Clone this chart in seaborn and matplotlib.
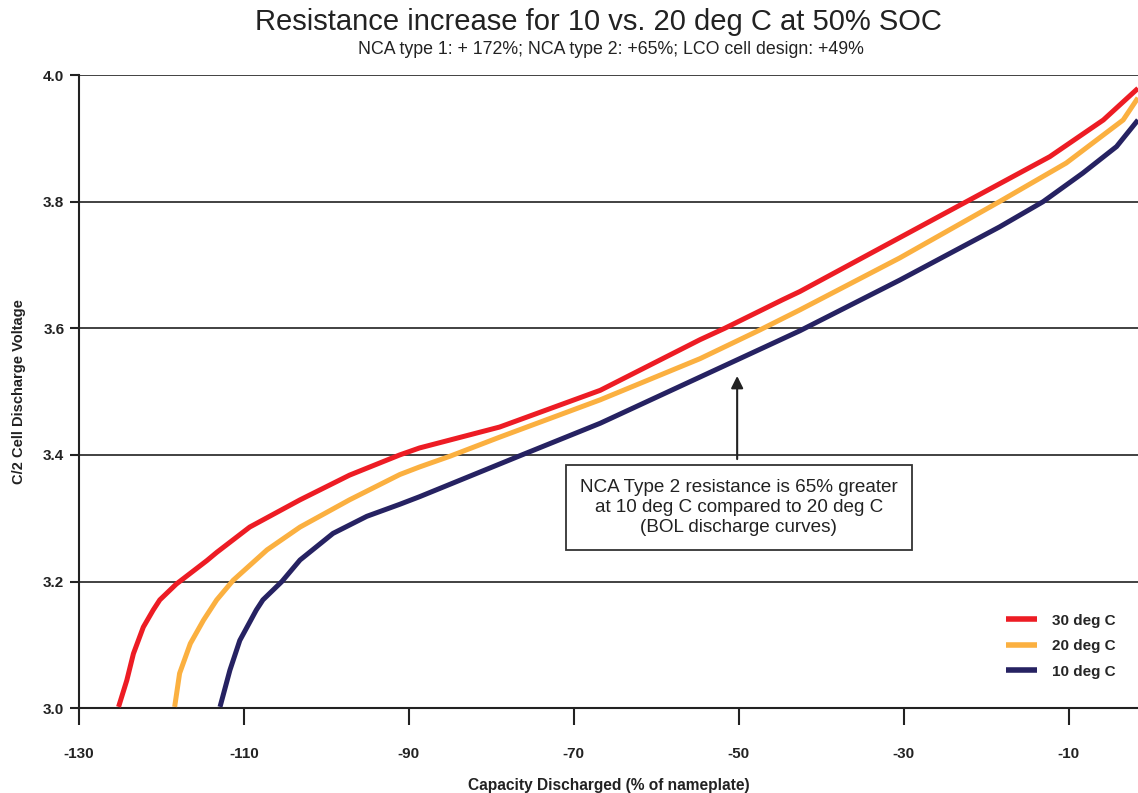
import numpy as np
import pandas as pd
import matplotlib
matplotlib.use("Agg")
import matplotlib.pyplot as plt
import seaborn as sns

series_names = ["30 deg C", "20 deg C", "10 deg C"]

cap_30 = [-125.2, -124.2, -123.4, -122.2, -121.0, -120.2, -118.2, -114.5, -113.3, -109.3, -103.2,
          -97.2, -91.1, -88.7, -79.0, -66.8, -54.7, -51.7, -44.7, -42.6, -32.5, -22.4, -12.3,
          -5.8, -1.6]
volt_30 = [3.002, 3.044, 3.086, 3.128, 3.155, 3.171, 3.196, 3.233, 3.246, 3.286, 3.329,
           3.368, 3.400, 3.411, 3.444, 3.502, 3.582, 3.600, 3.645, 3.658, 3.729, 3.800, 3.871,
           3.929, 3.979]

cap_20 = [-118.4, -117.8, -116.5, -114.9, -113.3, -111.3, -107.2, -103.2, -97.2, -91.1, -88.7,
          -85.0, -79.0, -66.8, -54.7, -47.5, -42.6, -30.5, -18.4, -10.3, -3.4, -1.6]
volt_20 = [3.002, 3.055, 3.102, 3.139, 3.171, 3.202, 3.250, 3.286, 3.329, 3.369, 3.381,
           3.398, 3.428, 3.487, 3.552, 3.597, 3.629, 3.711, 3.800, 3.861, 3.929, 3.964]

cap_10 = [-112.9, -111.7, -110.5, -108.5, -107.7, -105.4, -103.2, -99.2, -95.1, -91.1, -88.7,
          -76.1, -66.8, -54.7, -42.6, -30.5, -18.4, -13.1, -8.3, -4.2, -1.6]
volt_10 = [3.002, 3.060, 3.107, 3.155, 3.171, 3.200, 3.234, 3.276, 3.303, 3.322, 3.334,
           3.401, 3.450, 3.523, 3.596, 3.676, 3.760, 3.800, 3.845, 3.887, 3.929]

x_ticks = [-130, -110, -90, -70, -50, -30, -10]
y_ticks = [3.0, 3.2, 3.4, 3.6, 3.8, 4.0]

title = "Resistance increase for 10 vs. 20 deg C at 50% SOC"
subtitle = "NCA type 1: + 172%; NCA type 2: +65%; LCO cell design: +49%"
note = "NCA Type 2 resistance is 65% greater\nat 10 deg C compared to 20 deg C\n(BOL discharge curves)"

frames = []
for name, xs, ys in zip(series_names, [cap_30, cap_20, cap_10], [volt_30, volt_20, volt_10]):
    frames.append(pd.DataFrame({"Capacity": xs, "Voltage": ys, "Series": name}))
df = pd.concat(frames, ignore_index=True)

sns.set_style("white")
plt.rcParams["font.family"] = ["Liberation Sans", "DejaVu Sans"]

fig = plt.figure(figsize=(11.38, 7.93), dpi=100)
ax = fig.add_axes([0.0694, 0.107, 0.9306, 0.7984])

palette = {"30 deg C": "#ED1C24", "20 deg C": "#FBB040", "10 deg C": "#262262"}
sns.lineplot(data=df, x="Capacity", y="Voltage", hue="Series", hue_order=series_names,
             palette=palette, linewidth=3.6, sort=False, estimator=None, ax=ax,
             solid_capstyle="butt", solid_joinstyle="round", zorder=3)

ax.set_xlim(-130, -1.6)
ax.set_ylim(3.0, 4.0)
ax.set_xticks(x_ticks)
ax.set_xticklabels([str(t) for t in x_ticks], fontweight="bold", fontsize=11)
ax.set_yticks(y_ticks)
ax.set_yticklabels([f"{t:.1f}" for t in y_ticks], fontweight="bold", fontsize=11)
ax.tick_params(axis="x", bottom=True, direction="out", length=12, width=1.5, pad=16,
               color="#222222", labelcolor="#222222")
ax.tick_params(axis="y", left=True, direction="out", length=6.5, width=1.5, pad=4,
               color="#222222", labelcolor="#222222")
ax.yaxis.grid(True, color="#333333", linewidth=1.3)
ax.xaxis.grid(False)
for s in ["top", "right"]:
    ax.spines[s].set_visible(False)
for s in ["left", "bottom"]:
    ax.spines[s].set_color("#222222")
    ax.spines[s].set_linewidth(1.5)
ax.set_axisbelow(True)

ax.set_xlabel("Capacity Discharged (% of nameplate)", fontweight="bold", fontsize=11.2,
              labelpad=12, color="#222222")
ax.set_ylabel("C/2 Cell Discharge Voltage", fontweight="bold", fontsize=10.5, labelpad=12,
              color="#222222")

fig.text(0.526, 0.972, title, ha="center", va="center", fontsize=21, color="#222222")
fig.text(0.537, 0.938, subtitle, ha="center", va="center", fontsize=12.8, color="#222222")

ax.annotate("", xy=(-50.2, 3.529), xytext=(-50.2, 3.389),
            arrowprops=dict(arrowstyle="-|>", color="#222222", lw=1.5, mutation_scale=18))
ax.text(-50.0, 3.317, note, ha="center", va="center", fontsize=13.6, color="#222222",
        linespacing=1.25,
        bbox=dict(boxstyle="square,pad=0.75", facecolor="white", edgecolor="#333333", linewidth=1.3))

leg = ax.legend(loc="lower right", bbox_to_anchor=(0.992, 0.025), frameon=False,
                prop={"weight": "bold", "size": 11}, handlelength=2.0, handletextpad=1.0,
                labelspacing=0.75)
for line in leg.get_lines():
    line.set_linewidth(4)

fig.savefig("out.png", dpi=100)
